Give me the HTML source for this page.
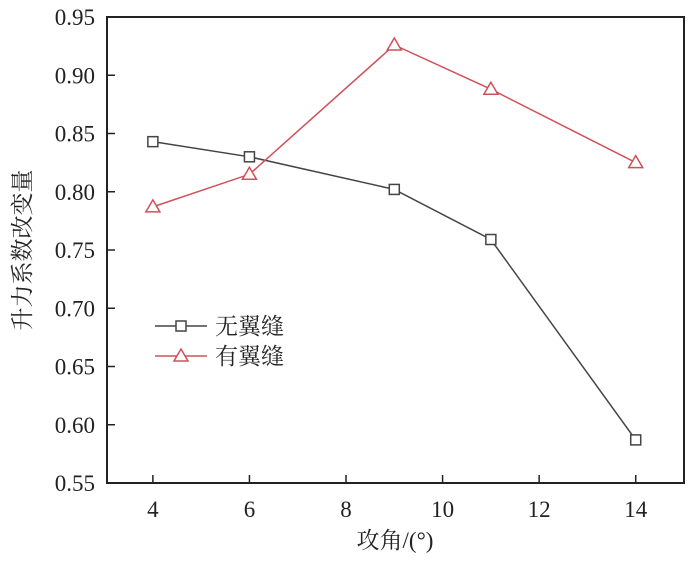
<!DOCTYPE html>
<html><head><meta charset="utf-8"><style>
body{margin:0;background:#fff}
svg text{font-family:"Liberation Serif","Noto Serif CJK SC",serif;fill:#222}
</style></head><body>
<svg id="chart" width="700" height="560"></svg>
<script>
const xValues=[4,6,9,11,14];
const seriesNoSlot=[0.843,0.830,0.802,0.759,0.587];
const seriesSlot=[0.787,0.815,0.926,0.888,0.825];
const xTicks=[4,6,8,10,12,14];
const yTicks=[0.55,0.60,0.65,0.70,0.75,0.80,0.85,0.90,0.95];
const L=107,R=684,T=17,B=483;
const sx=v=>L+(v-3.05)/(15-3.05)*(R-L);
const sy=v=>B-(v-0.55)/(0.95-0.55)*(B-T);
const svg=document.getElementById('chart');
const NS='http://www.w3.org/2000/svg';
function mk(t,a,p){const e=document.createElementNS(NS,t);for(const k in a)e.setAttribute(k,a[k]);(p||svg).appendChild(e);return e;}
const frame=mk('rect',{x:L,y:T,width:R-L,height:B-T,fill:'none',stroke:'#222','stroke-width':2});


yTicks.forEach(v=>{
 const l=mk('line',{x1:L,x2:L+8,y1:sy(v),y2:sy(v),stroke:'#222','stroke-width':1.5});
 
 
 const t=mk('text',{x:L-12,y:sy(v)+8,'text-anchor':'end','font-size':23});
 t.textContent=v.toFixed(2);
 
 
});
xTicks.forEach(v=>{
 const l=mk('line',{x1:sx(v),x2:sx(v),y1:B,y2:B-8,stroke:'#222','stroke-width':1.5});
 
 
 const t=mk('text',{x:sx(v),y:B+34,'text-anchor':'middle','font-size':23});
 t.textContent=v;
 
 
});
const xt=mk('text',{x:395,y:548,'text-anchor':'middle','font-size':23});
xt.textContent='攻角/(°)';


const yt=mk('text',{x:0,y:0,'text-anchor':'middle','font-size':23,transform:'translate(30,250) rotate(-90)'});
yt.textContent='升力系数改变量';


function sq(x,y,c,name){const r=mk('rect',{x:x-5,y:y-5,width:10,height:10,fill:'#fff',stroke:c,'stroke-width':1.5});}
function tri(x,y,c,name){const p=mk('polygon',{points:`${x},${y-7} ${x-7},${y+5} ${x+7},${y+5}`,fill:'#fff',stroke:c,'stroke-width':1.5});}
function series(vals,c,marker,name){
 const pl=mk('polyline',{points:xValues.map((x,i)=>sx(x)+','+sy(vals[i])).join(' '),fill:'none',stroke:c,'stroke-width':1.5});
 
 
 xValues.forEach((x,i)=>marker(sx(x),sy(vals[i]),c,name+'-point'));
}
series(seriesNoSlot,'#444',sq,'no-slot');
series(seriesSlot,'#d0505a',tri,'slot');
[['无翼缝','#444',sq,326,'no-slot'],['有翼缝','#d0505a',tri,356,'slot']].forEach(([lab,c,m,y,n])=>{
 const l=mk('line',{x1:155,x2:207,y1:y,y2:y,stroke:c,'stroke-width':1.5});
 
 
 m(181,y,c,'legend-marker-'+n);
 const t=mk('text',{x:215,y:y+8,'font-size':23});
 t.textContent=lab;
 
 
});
</script>
</body></html>
